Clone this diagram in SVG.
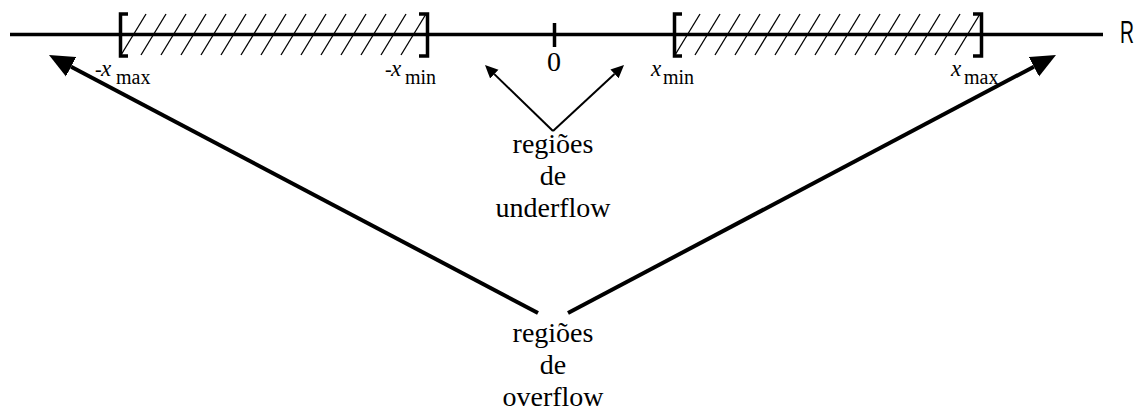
<svg xmlns="http://www.w3.org/2000/svg" xmlns:xlink="http://www.w3.org/1999/xlink" width="1143" height="412" viewBox="0 0 1143 412">
  <style>
    .axis { stroke: #000; stroke-width: 3.5; fill: none; }
    .brk { stroke: #000; stroke-width: 3.5; fill: none; }
    .hatch { stroke: #000; stroke-width: 1.3; }
    .txt { font-family: 'Liberation Serif', 'Times New Roman', serif; font-size: 28px; fill: #000; text-anchor: middle; }
    .lab { font-family: 'Liberation Serif', 'Times New Roman', serif; font-size: 20px; fill: #000; }
    .it { font-family: 'Liberation Serif', 'Times New Roman', serif; font-style: italic; font-size: 23px; }
    .thin { stroke: #000; stroke-width: 2; fill: none; }
    .thick { stroke: #000; stroke-width: 4; fill: none; }
  </style>
  <defs>
    <marker id="bigHead" markerUnits="userSpaceOnUse" markerWidth="26" markerHeight="24" viewBox="0 -12 26 24" refX="0" refY="0" orient="auto">
      <path d="M0,-11 L25,0 L0,11 Z" fill="#000"/>
    </marker>
    <marker id="smallHead" markerUnits="userSpaceOnUse" markerWidth="14" markerHeight="14" viewBox="0 -7 14 14" refX="0" refY="0" orient="auto">
      <path d="M0,-6 L13,0 L0,6 Z" fill="#000"/>
    </marker>
    <g id="hatchSet">
      <line class="hatch" x1="121" y1="55" x2="146" y2="14"/>
      <line class="hatch" x1="141" y1="55" x2="166" y2="14"/>
      <line class="hatch" x1="161" y1="55" x2="186" y2="14"/>
      <line class="hatch" x1="181" y1="55" x2="206" y2="14"/>
      <line class="hatch" x1="201" y1="55" x2="226" y2="14"/>
      <line class="hatch" x1="221" y1="55" x2="246" y2="14"/>
      <line class="hatch" x1="241" y1="55" x2="266" y2="14"/>
      <line class="hatch" x1="261" y1="55" x2="286" y2="14"/>
      <line class="hatch" x1="281" y1="55" x2="306" y2="14"/>
      <line class="hatch" x1="301" y1="55" x2="326" y2="14"/>
      <line class="hatch" x1="321" y1="55" x2="346" y2="14"/>
      <line class="hatch" x1="341" y1="55" x2="366" y2="14"/>
      <line class="hatch" x1="361" y1="55" x2="386" y2="14"/>
      <line class="hatch" x1="381" y1="55" x2="406" y2="14"/>
      <line class="hatch" x1="401" y1="55" x2="426" y2="14"/>
    </g>
  </defs>

  <g id="axis">
    <line class="axis" x1="10" y1="34.5" x2="1103" y2="34.5"/>
    <line class="axis" x1="554.5" y1="23" x2="554.5" y2="47" stroke-width="3"/>
    <text x="554" y="71" class="txt" font-size="27">0</text>
    <text x="1120" y="43" font-family="'Liberation Sans', Arial, sans-serif" font-size="31" textLength="14" lengthAdjust="spacingAndGlyphs" fill="#000">R</text>
  </g>

  <g id="negative-range">
    <use xlink:href="#hatchSet"/>
    <path class="brk" d="M128,14 L120.5,14 L120.5,56 L128,56"/>
    <path class="brk" d="M419,14 L427.5,14 L427.5,56 L419,56"/>
    <text class="lab" font-family="'Liberation Serif', serif"><tspan x="95" y="76">-</tspan><tspan class="it" x="101" y="76">x</tspan><tspan x="116" y="84">max</tspan></text>
    <text class="lab" font-family="'Liberation Serif', serif"><tspan x="385" y="76">-</tspan><tspan class="it" x="391" y="76">x</tspan><tspan x="405" y="84">min</tspan></text>
  </g>

  <g id="positive-range">
    <use xlink:href="#hatchSet" transform="translate(554,0)"/>
    <path class="brk" d="M682,14 L674.5,14 L674.5,56 L682,56"/>
    <path class="brk" d="M973,14 L981.5,14 L981.5,56 L973,56"/>
    <text class="lab" font-family="'Liberation Serif', serif"><tspan class="it" x="651" y="76">x</tspan><tspan x="663" y="84">min</tspan></text>
    <text class="lab" font-family="'Liberation Serif', serif"><tspan class="it" x="951" y="76">x</tspan><tspan x="964" y="84">max</tspan></text>
  </g>

  <g id="underflow-label">
    <text class="txt" x="553" y="153">regiões</text>
    <text class="txt" x="553" y="185">de</text>
    <text class="txt" x="553" y="217">underflow</text>
  </g>

  <g id="overflow-label">
    <text class="txt" x="553" y="342">regiões</text>
    <text class="txt" x="553" y="374">de</text>
    <text class="txt" x="553" y="406">overflow</text>
  </g>

  <g id="connectors">
    <line class="thin" x1="553" y1="131" x2="494.3" y2="74.1" marker-end="url(#smallHead)"/>
    <line class="thin" x1="553" y1="131" x2="614.5" y2="73.9" marker-end="url(#smallHead)"/>
    <line class="thick" x1="538" y1="313" x2="71.1" y2="66.7" marker-end="url(#bigHead)"/>
    <line class="thick" x1="568" y1="313" x2="1033.9" y2="66.7" marker-end="url(#bigHead)"/>
  </g>
</svg>
